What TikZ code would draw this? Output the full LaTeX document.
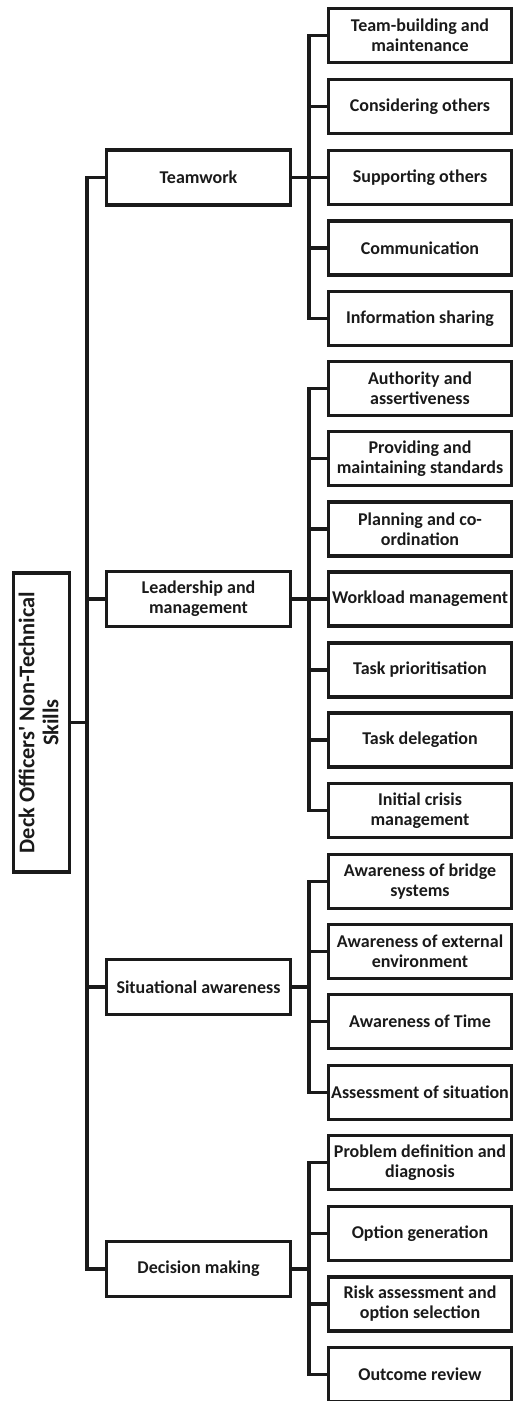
\documentclass[tikz,border=0pt]{standalone}
\usepackage{fontspec}
\setmainfont{Carlito}
\newfontfamily\rootfont{Carlito}
\usepackage{graphicx}
\definecolor{ink}{RGB}{26,26,26}
\begin{document}
\begin{tikzpicture}[x=0.5pt,y=-0.5pt,
  box/.style={draw=ink, line width=1.65pt, text=ink, inner sep=0pt, align=center,
    font=\fontsize{9}{10}\selectfont\bfseries},
  leaf/.style={box, minimum width=91.5pt, minimum height=27pt},
  mid/.style={box, minimum width=92pt, minimum height=27.5pt},
  conn/.style={draw=ink, line width=1.65pt, line cap=rect, line join=miter}]
\useasboundingbox (0,0) rectangle (514,1401);
\clip (0,0) rectangle (514,1401);
% root
\node[box, minimum width=28pt, minimum height=149.5pt] (root) at (41.5,722.5)
  {\rotatebox{90}{\rootfont\fontsize{11.2}{12}\selectfont\bfseries\begin{tabular}{@{}c@{}}Deck Officers' Non-Technical\\Skills\end{tabular}}};
% mid nodes
\node[mid] (tw) at (198.5,177.5) {Teamwork};
\node[mid] (lm) at (198.5,599) {Leadership and\\management};
\node[mid] (sa) at (198.5,987) {Situational awareness};
\node[mid] (dm) at (198.5,1269) {Decision making};
% leaves
\node[leaf] (l1) at (420,35.5) {Team-building and\\maintenance};
\node[leaf] (l2) at (420,106.5) {Considering others};
\node[leaf] (l3) at (420,177.5) {Supporting others};
\node[leaf] (l4) at (420,248) {Communication};
\node[leaf] (l5) at (420,318.5) {Information sharing};
\node[leaf] (l6) at (420,388.5) {Authority and\\assertiveness};
\node[leaf] (l7) at (420,458.5) {Providing and\\maintaining standards};
\node[leaf] (l8) at (420,529) {Planning and co-\\ordination};
\node[leaf] (l9) at (420,599) {Workload management};
\node[leaf] (l10) at (420,670) {Task prioritisation};
\node[leaf] (l11) at (420,740) {Task delegation};
\node[leaf] (l12) at (420,810.5) {Initial crisis\\management};
\node[leaf] (l13) at (420,881.5) {Awareness of bridge\\systems};
\node[leaf] (l14) at (420,951.5) {Awareness of external\\environment};
\node[leaf] (l15) at (420,1021.5) {Awareness of Time};
\node[leaf] (l16) at (420,1092.5) {Assessment of situation};
\node[leaf] (l17) at (420,1162.5) {Problem definition and\\diagnosis};
\node[leaf] (l18) at (420,1233.5) {Option generation};
\node[leaf] (l19) at (420,1304) {Risk assessment and\\option selection};
\node[leaf] (l20) at (420,1374.5) {Outcome review};
% branch x positions
\coordinate (tx) at (87,0);
\coordinate (bx) at (309,0);
% trunk
\draw[conn] (tw.west) -- (tw.west -| tx) -- (dm.west -| tx) -- (dm.west);
\draw[conn] (lm.west) -- (lm.west -| tx);
\draw[conn] (sa.west) -- (sa.west -| tx);
\draw[conn] (root.east) -- (root.east -| tx);
% groups
\draw[conn] (tw.east) -- (tw.east -| bx);
\draw[conn] (l1.west) -- (l1.west -| bx) -- (l5.west -| bx) -- (l5.west);
\foreach \n in {l2,l3,l4} \draw[conn] (\n.west) -- (\n.west -| bx);
\draw[conn] (lm.east) -- (lm.east -| bx);
\draw[conn] (l6.west) -- (l6.west -| bx) -- (l12.west -| bx) -- (l12.west);
\foreach \n in {l7,l8,l9,l10,l11} \draw[conn] (\n.west) -- (\n.west -| bx);
\draw[conn] (sa.east) -- (sa.east -| bx);
\draw[conn] (l13.west) -- (l13.west -| bx) -- (l16.west -| bx) -- (l16.west);
\foreach \n in {l14,l15} \draw[conn] (\n.west) -- (\n.west -| bx);
\draw[conn] (dm.east) -- (dm.east -| bx);
\draw[conn] (l17.west) -- (l17.west -| bx) -- (l20.west -| bx) -- (l20.west);
\foreach \n in {l18,l19} \draw[conn] (\n.west) -- (\n.west -| bx);
\end{tikzpicture}
\end{document}
